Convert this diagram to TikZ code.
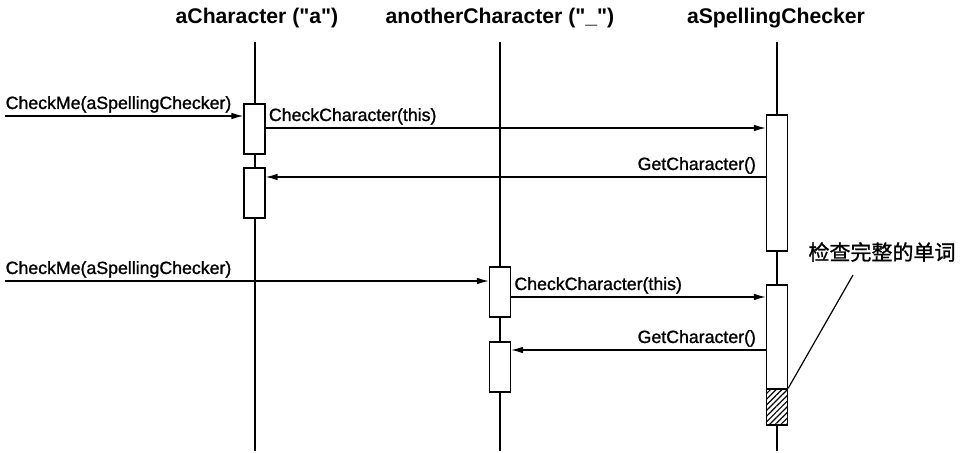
\documentclass[tikz,border=0pt]{standalone}
\usepackage{fontspec}
\setmainfont{Liberation Sans}[UprightFeatures={FakeBold=1.2}]
\newfontfamily\cjk{Noto Sans CJK SC}[FakeBold=1.2]
\usepackage{tikz}
\usetikzlibrary{arrows.meta,patterns.meta,positioning}
\tikzset{%
	title/.style    = {font=\bfseries\fontsize{15.9}{18}\selectfont, inner sep=0pt},
	msglabel/.style = {font=\fontsize{13.3}{15}\selectfont, inner sep=2pt},
	act/.style      = {draw, fill=white, rectangle, minimum width=15.75pt, inner sep=0pt},
	msg/.style      = {line width=1pt, -{Latex[length=9pt,width=5pt]}},
}

\begin{document}
\begin{tikzpicture}[x=0.75pt,y=-0.75pt,line width=0.9pt]
		\useasboundingbox (0,0) rectangle (961,453);
		% objects
		\node[title] (objA) at (257,18) {aCharacter (\textquotedbl a\textquotedbl)};
		\node[title] (objB) at (500,18) {anotherCharacter (\textquotedbl\_\textquotedbl)};
		\node[title] (objC) at (776,18) {aSpellingChecker};
		\foreach \x in {255,500,777} \draw (\x,42) -- (\x,451);
		% activations
		\node[act, minimum height=37.5pt] (a1) at (254.5,129) {};
		\node[act, minimum height=37.5pt] (a2) at (254.5,193) {};
		\node[act, minimum height=37.5pt] (b1) at (500,292) {};
		\node[act, minimum height=37.5pt] (b2) at (500,367) {};
		\node[act, minimum height=102pt] (s1) at (777,183) {};
		\node[act, minimum height=105pt] (s2) at (777,355) {};
		\node[act, minimum height=27pt, pattern={Lines[angle=45,distance=3pt,line width=0.9pt]}] (full) at (777,407) {};
		% message levels
		\coordinate (in1) at (5,116);
		\coordinate (m2) at (0,128);
		\coordinate (m3) at (0,177);
		\coordinate (in2) at (5,281);
		\coordinate (m5) at (0,297);
		\coordinate (m6) at (0,350);
		\draw[msg] (in1) -- (in1 -| a1.west) node[msglabel, pos=0, above right, inner xsep=0pt] {CheckMe(aSpellingChecker)};
		\draw[msg] (m2 -| a1.east) -- (m2 -| s1.west) node[msglabel, pos=0, above right] {CheckCharacter(this)};
		\draw[msg] (m3 -| s1.west) -- (m3 -| a2.east) node[msglabel, pos=0, above left, xshift=-5pt] {GetCharacter()};
		\draw[msg] (in2) -- (in2 -| b1.west) node[msglabel, pos=0, above right, inner xsep=0pt] {CheckMe(aSpellingChecker)};
		\draw[msg] (m5 -| b1.east) -- (m5 -| s2.west) node[msglabel, pos=0, above right] {CheckCharacter(this)};
		\draw[msg] (m6 -| s2.west) -- (m6 -| b2.east) node[msglabel, pos=0, above left, xshift=-5pt] {GetCharacter()};
		% note
		\node[font=\cjk\fontsize{15.75}{18}\selectfont, inner sep=0pt] (note) at (882,252) {检查完整的单词};
		\coordinate (noteend) at (853,275);
		\draw (full.north east) -- (noteend);
	\end{tikzpicture}
\end{document}
